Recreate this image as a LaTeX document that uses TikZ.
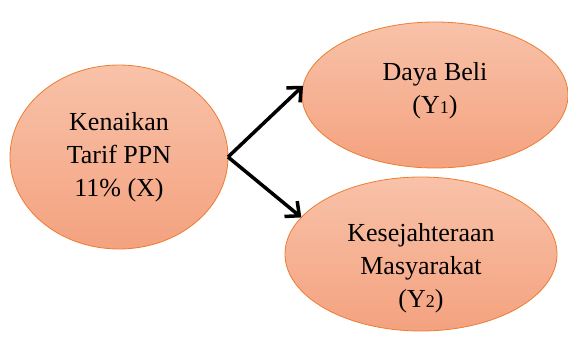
\documentclass[tikz,border=0pt]{standalone}
\usepackage{fontspec}
\setmainfont{Liberation Serif}
\usetikzlibrary{shapes.geometric, arrows.meta}
\definecolor{ovalline}{HTML}{ED7D31}
\definecolor{ovaltop}{HTML}{F8C2A9}
\definecolor{ovalbottom}{HTML}{F4A27F}
\newcommand{\sub}[1]{{\fontsize{18}{18}\selectfont #1}}

\begin{document}
\begin{tikzpicture}[x=1pt, y=1pt]
\tikzset{OvalStyle/.style = {ellipse, draw= ovalline, line width= 0.8pt, top color= ovaltop, bottom color= ovalbottom, inner sep= 0pt, outer sep= 0pt},
TextStyle/.style = {align= center, inner sep= 0pt, font= \rmfamily\fontsize{26}{33}\selectfont},
ArrowStyle/.style = {-{Straight Barb[length= 11pt, width= 20pt, line width= 3.5pt]}, line width= 3.5pt}
}
    \useasboundingbox (0,0) rectangle (568,338);

   \node[OvalStyle, minimum width= 218, minimum height= 184, label= {[TextStyle]center:{Kenaikan\\Tarif PPN\\11\% (X)}}] (kenaikan) at (119,181) {};
   \node[OvalStyle, minimum width= 266, minimum height= 146, label= {[TextStyle, yshift= 4]center:{Daya Beli\\(Y\sub{1})}}] (dayabeli) at (435,243) {};
   \node[OvalStyle, minimum width= 272, minimum height= 154, label= {[TextStyle, yshift= -14]center:{Kesejahteraan\\Masyarakat\\(Y\sub{2})}}] (kesejahteraan) at (421,84) {};

    % Draw arrows
    \draw [ArrowStyle] (kenaikan.east) -- (dayabeli.176);
    \draw [ArrowStyle] (kenaikan.east) -- (kesejahteraan.163);
\end{tikzpicture}
\end{document}
